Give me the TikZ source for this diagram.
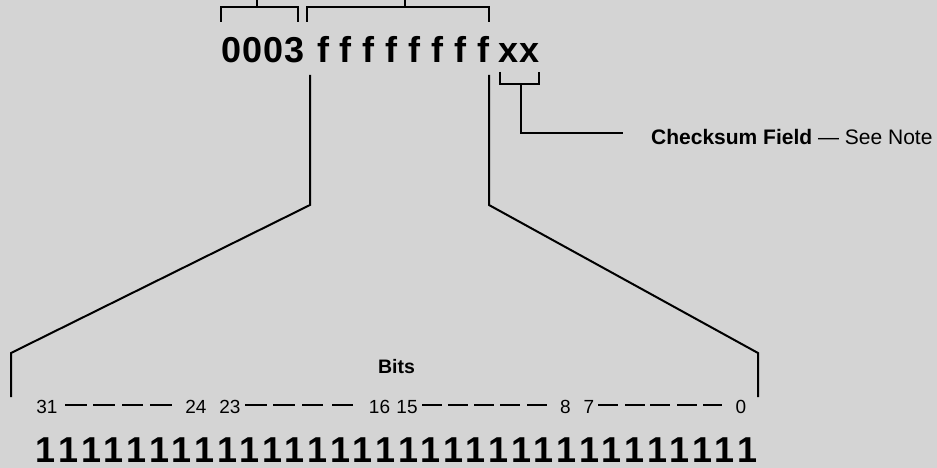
\documentclass[tikz,border=0pt]{standalone}
\usepackage{fontspec}
\setmainfont{Liberation Sans}
\definecolor{bgcol}{RGB}{212,212,212}
\begin{document}
\begin{tikzpicture}[x=1pt,y=-1pt,
  ln/.style={line width=2pt,line cap=butt,line join=miter},
  big/.style={inner sep=0pt,anchor=base,font=\fontsize{36}{40}\selectfont\bfseries},
  num/.style={inner sep=0pt,anchor=base,font=\fontsize{19}{21}\selectfont},
  lbl/.style={inner sep=0pt,anchor=base,font=\fontsize{19.5}{22}\selectfont\bfseries},
  note/.style={inner sep=0pt,anchor=base west,font=\fontsize{21}{24}\selectfont}]
\fill[bgcol] (0,0) rectangle (937,468);
\useasboundingbox (0,0) rectangle (937,468);
% top hex word
\node[big] (zeros) at (263,63) {0\kern1pt0\kern1pt0\kern1pt3};
\foreach \i in {0,...,7} {
  \node[big] (f\i) at ({323+\i*22.86},63) {f};
}
\node[big] (xx) at (519,63) {xx};
% top brackets
\coordinate (b1l) at (221,22); \coordinate (b1r) at (298,22);
\coordinate (b1s) at (257,0);
\draw[ln] (b1l) |- (b1r |- 0,7) -- (b1r);
\draw[ln] (b1s) -- (b1s |- 0,7);
\coordinate (b2l) at (307,22); \coordinate (b2r) at (489,22);
\coordinate (b2s) at (405,0);
\draw[ln] (b2l) |- (b2r |- 0,7) -- (b2r);
\draw[ln] (b2s) -- (b2s |- 0,7);
% checksum bracket
\coordinate (c1) at (500,72); \coordinate (c2) at (539,72);
\coordinate (cm) at (521,84); \coordinate (ce) at (623,133);
\draw[ln] (c1) |- (c2 |- cm) -- (c2);
\draw[ln] (cm) |- (ce);
\node[note] (chk) at (651,145) {\textbf{Checksum Field} — See Note};
% expansion lines
\coordinate (l1) at (310,75); \coordinate (l2) at (310,205);
\coordinate (l3) at (11,353); \coordinate (l4) at (11,397);
\draw[ln] (l1) -- (l2) -- (l3) -- (l4);
\coordinate (r1) at (489,75); \coordinate (r2) at (489,205);
\coordinate (r3) at (758,353); \coordinate (r4) at (758,397);
\draw[ln] (r1) -- (r2) -- (r3) -- (r4);
% bits label
\node[lbl] (bits) at (396.5,373) {Bits};
% bit numbers
\node[num] (n31) at (47,413) {31};
\node[num] (n24) at (196,413) {24};
\node[num] (n23) at (230,413) {23};
\node[num] (n16) at (379.5,413) {16};
\node[num] (n15) at (407,413) {15};
\node[num] (n8) at (565.5,413) {8};
\node[num] (n7) at (589,413) {7};
\node[num] (n0) at (741,413) {0};
\foreach \a/\b in {65/87,93/115,122/143,150/172,245/267,273/295,302/323,332/353,
  422/442,448/468,474/494,500/520,527/547,598/618,625/645,650/670,677/697,703/722} {
  \draw[line width=1.6pt] (\a,405) -- (\b,405);
}
% bits row
\foreach \i in {0,...,31} {
  \node[big] (one\i) at ({46+\i*22.63},462) {1};
}
\end{tikzpicture}
\end{document}
